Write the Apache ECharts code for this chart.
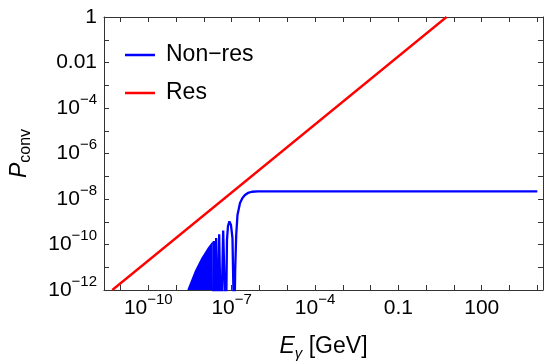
<!DOCTYPE html>
<html>
<head>
<meta charset="utf-8">
<script src="https://cdn.jsdelivr.net/npm/echarts@6/dist/echarts.min.js"></script>
<style>
  html, body { margin: 0; padding: 0; background: #fff; }
  #chart { width: 544px; height: 362px; }
</style>
</head>
<body>
<div id="chart"></div>
<script>
// E_gamma in GeV, P_conv
const resE = [5.07e-12, 5.42];
const resP = [1e-12, 1];

// resolved oscillations, the rise and the plateau (1e-14 = dip far below the frame)
const nonResE = [
  2.08e-8, 2.28e-8, 2.49e-8, 2.77e-8, 3.12e-8, 3.56e-8, 4.13e-8, 4.96e-8, 6.19e-8,
  6.79e-8, 7.38e-8, 8.28e-8, 9.46e-8, 1.07e-7, 1.24e-7,
  1.34e-7, 1.46e-7, 1.62e-7, 2.0e-7, 2.45e-7, 3.02e-7, 3.87e-7, 5.4e-7, 8.85e-7, 1e4,
];
const nonResP = [
  1e-14, 1.43e-10, 1e-14, 1.93e-10, 1e-14, 2.81e-10, 1e-14, 4.12e-10, 1e-14,
  1.58e-10, 6.5e-10, 1.03e-9, 7.19e-10, 1.93e-10, 1e-14,
  7.57e-12, 2.62e-10, 1.98e-9, 6.67e-9, 1.11e-8, 1.5e-8, 1.84e-8, 2.08e-8, 2.18e-8, 2.18e-8,
];

// below ~2e-8 GeV the fast oscillations merge into a solid band: its upper edge
const bandE = [2.69e-9, 4.91e-9, 8.55e-9, 1.49e-8, 2.08e-8];
const bandP = [1e-12, 6.37e-12, 2.47e-11, 7.23e-11, 1.22e-10];

// axis extent and ticks, in decades
const xMin = -11.594;
const xMax = 4.205;
const xTicks = [-11, -10, -9, -8, -7, -6, -5, -4, -3, -2, -1, 0, 1, 2, 3, 4];
const xLabels = [-10, -7, -4, -1, 2];
const plainLabels = { '0': '1', '-2': '0.01', '-1': '0.1', '2': '100' };

const FONT = '"Liberation Sans", Arial, sans-serif';
const FRAME = '#333';
const MINUS = '\u2212';

const pairs = (xs, ys) => xs.map((x, i) => [Math.log10(x), Math.log10(ys[i])]);

function powLabel(v) {
  const n = Math.round(v);
  if (plainLabels[n] !== undefined) return '{b|' + plainLabels[n] + '}';
  return '{b|10}{s|' + (n < 0 ? MINUS : '') + Math.abs(n) + '}';
}

const labelRich = {
  b: { fontSize: 21, fontFamily: FONT, color: '#000', lineHeight: 32 },
  s: { fontSize: 15, fontFamily: FONT, color: '#000', lineHeight: 15, verticalAlign: 'top' },
};

const frameLine = { show: true, onZero: false, lineStyle: { color: FRAME, width: 1 } };

const chart = echarts.init(document.getElementById('chart'));
chart.setOption({
  animation: false,
  backgroundColor: '#fff',
  grid: { left: 104, top: 17, right: 1, bottom: 72, containLabel: false, outerBoundsMode: 'none' },
  legend: {
    data: ['Non' + MINUS + 'res', 'Res'],
    orient: 'vertical',
    left: 125,
    top: 43,
    padding: 0,
    icon: 'rect',
    itemWidth: 30,
    itemHeight: 2.5,
    itemGap: 14,
    textStyle: { fontSize: 23, fontFamily: FONT, color: '#000', lineHeight: 24, padding: [0, 0, 0, 6] },
  },
  xAxis: [
    {
      type: 'value',
      position: 'bottom',
      min: xMin,
      max: xMax,
      axisLine: frameLine,
      splitLine: { show: false },
      axisTick: { inside: true, length: 5, customValues: xTicks, lineStyle: { color: FRAME } },
      axisLabel: { customValues: xLabels, formatter: powLabel, margin: 2, rich: labelRich },
      name: '{i|E}{s|\u03b3} [GeV]',
      nameLocation: 'middle',
      nameGap: 43,
      nameTextStyle: {
        fontSize: 23, fontFamily: FONT, color: '#000',
        rich: {
          i: { fontSize: 23, fontFamily: FONT, fontStyle: 'italic', color: '#000', lineHeight: 28 },
          s: { fontSize: 15, fontFamily: FONT, fontStyle: 'italic', color: '#000', lineHeight: 15, verticalAlign: 'bottom' },
        },
      },
    },
    {
      type: 'value',
      position: 'top',
      min: xMin,
      max: xMax,
      axisLine: frameLine,
      splitLine: { show: false },
      axisTick: { inside: true, length: 5, customValues: xTicks, lineStyle: { color: FRAME } },
      axisLabel: { show: false },
    },
  ],
  yAxis: [
    {
      type: 'value',
      position: 'left',
      min: -12,
      max: 0,
      interval: 1,
      axisLine: frameLine,
      splitLine: { show: false },
      axisTick: { inside: true, length: 5, lineStyle: { color: FRAME } },
      axisLabel: {
        margin: 7,
        rich: labelRich,
        formatter: (v) => (Math.round(v) % 2 === 0 ? powLabel(v) : ''),
      },
      name: '{i|P}{s|conv}',
      nameLocation: 'middle',
      nameGap: 70,
      nameTextStyle: {
        fontSize: 23, fontFamily: FONT, color: '#000',
        rich: {
          i: { fontSize: 23, fontFamily: FONT, fontStyle: 'italic', color: '#000', lineHeight: 28 },
          s: { fontSize: 16, fontFamily: FONT, color: '#000', lineHeight: 16, verticalAlign: 'bottom' },
        },
      },
    },
    {
      type: 'value',
      position: 'right',
      min: -12,
      max: 0,
      interval: 1,
      axisLine: frameLine,
      splitLine: { show: false },
      axisTick: { inside: true, length: 5, lineStyle: { color: FRAME } },
      axisLabel: { show: false },
    },
  ],
  series: [
    {
      name: 'Non' + MINUS + 'res band',
      type: 'line',
      data: pairs(bandE, bandP),
      symbol: 'none',
      color: '#0000ff',
      lineStyle: { width: 1.5, color: '#0000ff' },
      areaStyle: { color: '#0000ff', opacity: 1, origin: 'start' },
    },
    {
      name: 'Non' + MINUS + 'res',
      type: 'line',
      data: pairs(nonResE, nonResP),
      symbol: 'none',
      color: '#0000ff',
      lineStyle: { width: 2.3, color: '#0000ff' },
    },
    {
      name: 'Res',
      type: 'line',
      data: pairs(resE, resP),
      symbol: 'none',
      color: '#ff0000',
      lineStyle: { width: 2.3, color: '#ff0000' },
    },
  ],
});
</script>
</body>
</html>
